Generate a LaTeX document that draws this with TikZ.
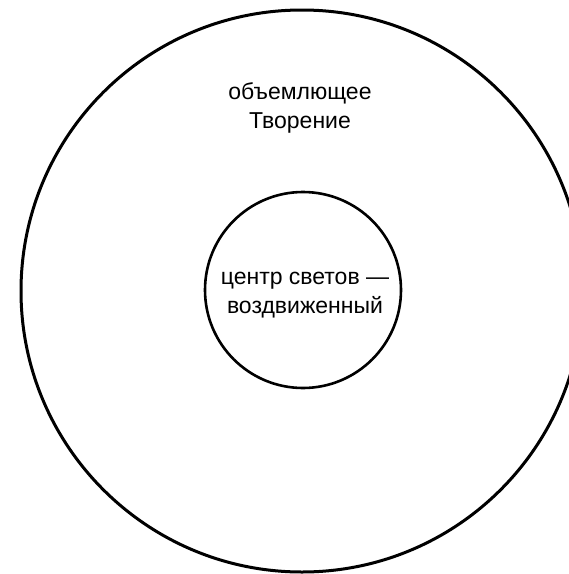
\documentclass[tikz,border=0pt]{standalone}
\usepackage{fontspec}
\setmainfont{Liberation Sans}
\begin{document}
\begin{tikzpicture}[x=1pt,y=-1pt,
  ring/.style={draw=black,line width=3pt},
  core/.style={draw=black,line width=2.6pt},
  label/.style={align=center,font=\fontsize{23}{29}\selectfont,inner sep=0pt}]
  \useasboundingbox (0,0) rectangle (569,574);
  \clip (0,0) rectangle (569,574);
  % outer circle: the enclosing Creation
  \node[ring,circle,minimum size=562pt,inner sep=0pt] (outer) at (302,291) {};
  % inner circle: the centre of lights
  \node[core,circle,minimum size=196pt,inner sep=0pt] (inner) at (303,290) {};
  \node[label] (outerText) at (300,108) {объемлющее\\Творение};
  \node[label] (innerText) at (305,295) {центр светов —\\воздвиженный};
\end{tikzpicture}
\end{document}
